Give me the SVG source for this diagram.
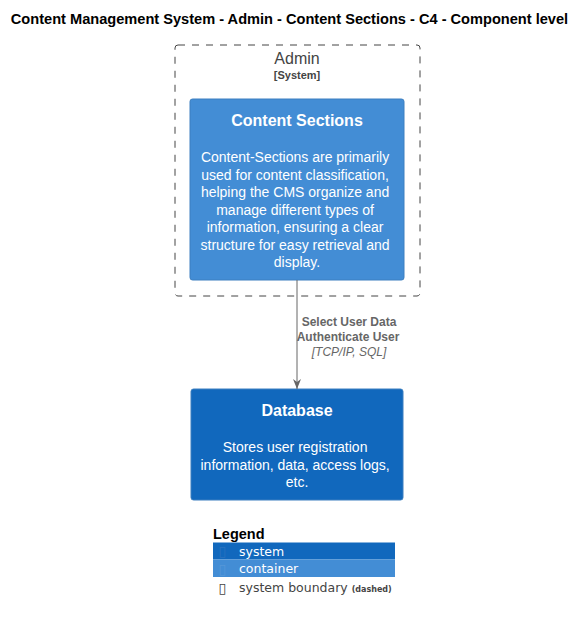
<svg xmlns="http://www.w3.org/2000/svg" width="586" height="620" viewBox="0 0 586 620">
<defs>
<style>
.t{font-family:"Liberation Sans",Arial,sans-serif}
.title{font-size:14.6px;font-weight:bold;fill:#000}
.nt{font-size:16px;font-weight:bold;fill:#fff}
.nd{font-size:14px;fill:#fff}
.bt{font-size:16px;fill:#444}
.bs{font-size:11px;font-weight:bold;fill:#444}
.lb{font-size:12px;font-weight:bold;fill:#666}
.li{font-size:12px;font-style:italic;fill:#666}
.lg{font-family:"DejaVu Sans",sans-serif;font-size:12.5px}
.ic{font-family:"DejaVu Sans",sans-serif;font-size:14px}
</style>
<marker id="arr" viewBox="0 0 10 10" refX="10" refY="5" markerWidth="10" markerHeight="10" markerUnits="userSpaceOnUse" orient="auto">
<path d="M0,1 L10,5 L0,9 L3,5 Z" fill="#666"/>
</marker>
</defs>
<rect width="586" height="620" fill="#fff"/>
<text class="t title" x="289.5" y="24" text-anchor="middle">Content Management System - Admin - Content Sections - C4 - Component level</text>
<g id="admin-boundary">
<rect x="175" y="45" width="245" height="251" rx="3" fill="none" stroke="#444" stroke-width="1" stroke-dasharray="7,7"/>
<text class="t bt" x="297" y="64" text-anchor="middle">Admin</text>
<text class="t bs" x="297" y="79" text-anchor="middle">[System]</text>
</g>
<g id="content-sections">
<rect x="190" y="99" width="214" height="181" rx="2.5" fill="#438DD5" stroke="#3C7FC0"/>
<text class="t nt" x="297" y="126" text-anchor="middle">Content Sections</text>
<text class="t nd" text-anchor="middle">
<tspan x="297" y="162">Content-Sections are primarily</tspan>
<tspan x="297" y="179.5">used for content classification,</tspan>
<tspan x="297" y="197">helping the CMS organize and</tspan>
<tspan x="297" y="214.5">manage different types of</tspan>
<tspan x="297" y="232">information, ensuring a clear</tspan>
<tspan x="297" y="249.5">structure for easy retrieval and</tspan>
<tspan x="297" y="267">display.</tspan>
</text>
</g>
<g id="database">
<rect x="191" y="389" width="212" height="111" rx="2.5" fill="#1168BD" stroke="#3C7FC0"/>
<text class="t nt" x="297" y="416" text-anchor="middle">Database</text>
<text class="t nd" text-anchor="middle">
<tspan x="297" y="452">Stores user registration</tspan>
<tspan x="297" y="469.5">information, data, access logs,</tspan>
<tspan x="297" y="487">etc.</tspan>
</text>
</g>
<g id="connectors">
<line x1="297" y1="280" x2="297" y2="389" stroke="#666" stroke-width="1" marker-end="url(#arr)"/>
<text class="t lb" x="349" y="326" text-anchor="middle">Select User Data</text>
<text class="t lb" x="348" y="341" text-anchor="middle">Authenticate User</text>
<text class="t li" x="349" y="356" text-anchor="middle">[TCP/IP, SQL]</text>
</g>
<g id="legend">
<text class="t" x="213" y="539" font-size="14.5" font-weight="bold" fill="#000">Legend</text>
<rect x="213" y="542.5" width="182" height="17" fill="#1168BD"/>
<rect x="213" y="559.5" width="182" height="17.5" fill="#438DD5"/>
<text class="ic" x="218.5" y="556" fill="#2a72bf">▯</text>
<text class="lg" x="239" y="555.5" fill="#fff">system</text>
<text class="ic" x="218.5" y="573.5" fill="#5597d8">▯</text>
<text class="lg" x="239" y="573" fill="#fff">container</text>
<text class="ic" x="218.5" y="593" fill="#444">▯</text>
<text class="lg" x="239" y="592" fill="#444">system boundary <tspan font-size="8" font-weight="bold">(dashed)</tspan></text>
</g>
</svg>
